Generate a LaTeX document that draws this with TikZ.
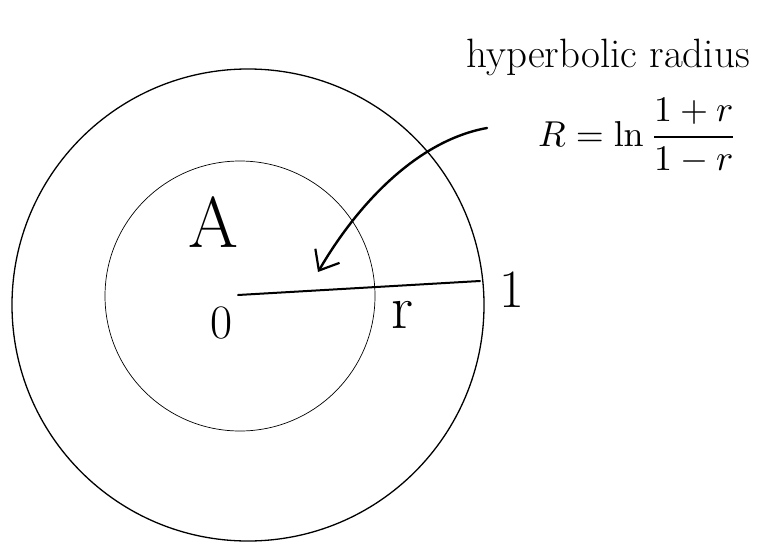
\documentclass[tikz,border=0pt]{standalone}
\usepackage{graphicx}
\usetikzlibrary{arrows.meta}
\tikzset{
  lbl/.style={inner sep=0pt, outer sep=0pt, font=\fontsize{#1}{#1}\selectfont},
  outerc/.style={draw=black, line width=1.3pt},
  innerc/.style={draw=black, line width=0.7pt},
  radline/.style={draw=black, line width=2pt, line cap=round},
  callout/.style={draw=black, line width=2.4pt, line cap=round,
    -{Straight Barb[length=17pt,width=28pt,line width=2.2pt]}}
}
\begin{document}
\begin{tikzpicture}[x=1pt,y=-1pt]
  \useasboundingbox (0,0) rectangle (768,543);
  % circles
  \draw[outerc] (248,305) circle[radius=236];
  \draw[innerc] (240,296) circle[radius=135];
  % radius
  \coordinate (O) at (238,295);
  \coordinate (E) at (480,281);
  \draw[radline] (O) -- (E);
  % labels
  \node[lbl=72] (A) at (213,222) {A};
  \node[lbl=48] (zero) at (222,323) {0};
  \node[lbl=62] (r) at (402,315) {r};
  \node[lbl=54] (one) at (512,290) {1};
  % annotation
  \node[lbl=41, anchor=base] (title) at (608,67) {hyperbolic radius};
  \node[inner sep=0pt, anchor=base west] (formula) at (538,146) {\scalebox{3.6}{$\displaystyle R=\ln\frac{1+r}{1-r}$}};
  \coordinate (S) at (487,128);
  \coordinate (T) at (318,272);
  \draw[callout] (S) .. controls (420,140) and (360,200) .. (T);
\end{tikzpicture}
\end{document}
